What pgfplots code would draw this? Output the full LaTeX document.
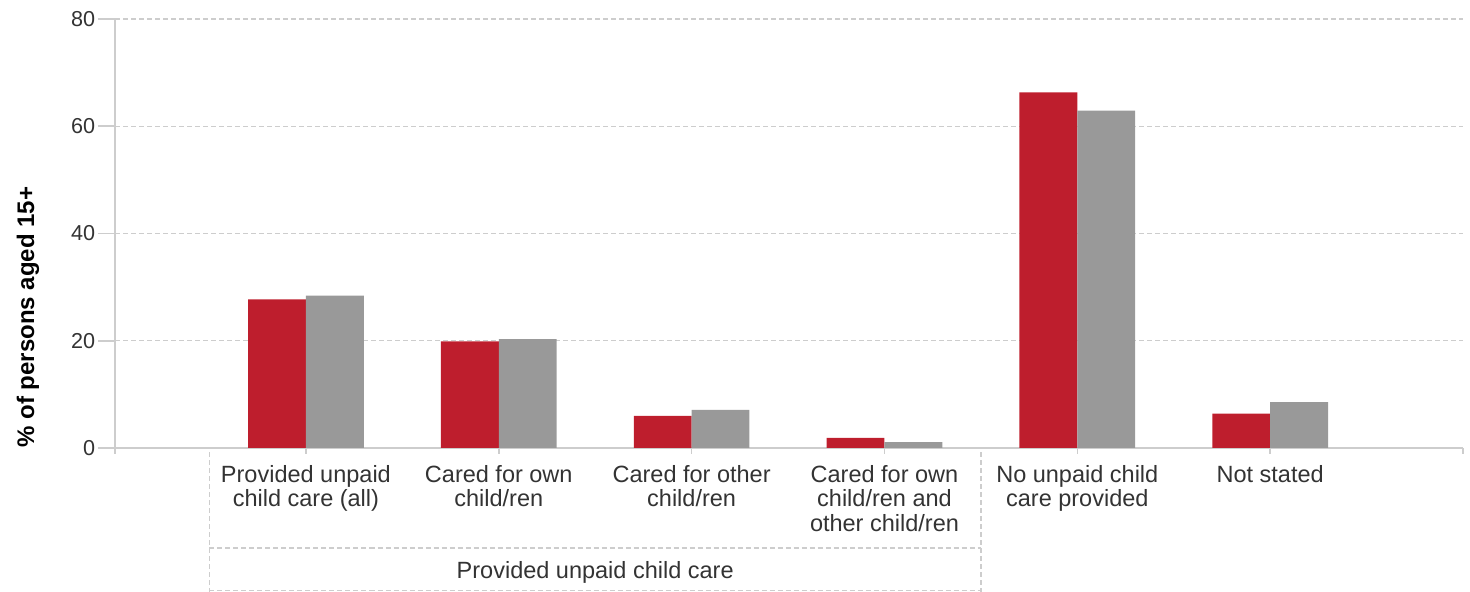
\documentclass[border=0pt]{standalone}
\usepackage{pgfplots}
\pgfplotsset{compat=1.18}
\usepackage{fontspec}
\setmainfont{Liberation Sans}
\definecolor{barred}{HTML}{BE1E2D}
\definecolor{bargrey}{HTML}{999999}
\definecolor{gridc}{HTML}{CDCDCD}
\definecolor{txt}{HTML}{333333}
\begin{document}
\begin{tikzpicture}
\useasboundingbox (0,0) rectangle (735pt,296pt);
\begin{axis}[
  at={(57.5pt,72pt)}, anchor=south west,
  scale only axis, width=674pt, height=214.5pt,
  xmin=-0.99, xmax=6, ymin=0, ymax=80,
  ybar, bar width=0.3,
  axis x line*=bottom, axis y line*=left,
  axis line style={draw=gridc, line width=0.8pt, -},
  tick align=outside, major tick length=3pt,
  tick style={draw=gridc, line width=0.8pt},
  ytick style={draw=none},
  xtick={0,1,2,3,4,5},
  xticklabels={{Provided unpaid\\child care (all)},{Cared for own\\child/ren},{Cared for other\\child/ren},{Cared for own\\child/ren and\\other child/ren},{No unpaid child\\care provided},{Not stated}},
  extra x ticks={-0.99,6}, extra x tick labels={},
  xticklabel style={align=center, font=\fontsize{11.75}{12.25}\selectfont, text=txt, yshift=-2pt},
  ytick={0,20,40,60,80},
  yticklabel style={font=\fontsize{10.8}{13}\selectfont, text=txt, xshift=-3.4pt},
  /pgf/number format/assume math mode=true,
  ymajorgrids,
  grid style={draw=gridc, line width=0.7pt, dash pattern=on 2.5pt off 1.5pt},
  ylabel={\% of persons aged 15+},
  ylabel style={at={(rel axis cs:-0.0645,0.305)}, anchor=center, font=\bfseries\fontsize{12}{14}\selectfont, text=black},
  clip=false,
]
\addplot[fill=barred, draw=none, bar shift=-0.15] coordinates {(0,27.7) (1,19.9) (2,6.0) (3,1.9) (4,66.3) (5,6.4)};
\addplot[fill=bargrey, draw=none, bar shift=0.15] coordinates {(0,28.4) (1,20.3) (2,7.1) (3,1.1) (4,62.9) (5,8.55)};
\pgfplotsinvokeforeach{0,20,40,60,80}{\draw[gridc, line width=0.8pt] ([xshift=-8.5pt]axis cs:-0.99,#1) -- (axis cs:-0.99,#1);}
\draw[gridc, line width=0.7pt, dash pattern=on 2.5pt off 1.5pt] (axis cs:-0.5,-0.75) -- (axis cs:-0.5,-26.85);
\draw[gridc, line width=0.7pt, dash pattern=on 2.5pt off 1.5pt] (axis cs:3.5,-0.75) -- (axis cs:3.5,-26.85);
\draw[gridc, line width=0.7pt, dash pattern=on 2.5pt off 1.5pt] (axis cs:-0.5,-18.65) -- (axis cs:3.5,-18.65);
\draw[gridc, line width=0.7pt, dash pattern=on 2.5pt off 1.5pt] (axis cs:-0.5,-26.61) -- (axis cs:3.5,-26.61);
\node[anchor=base, text=txt, font=\fontsize{11.75}{12.25}\selectfont] at (axis cs:1.5,-24.3) {Provided unpaid child care};
\end{axis}
\end{tikzpicture}
\end{document}
